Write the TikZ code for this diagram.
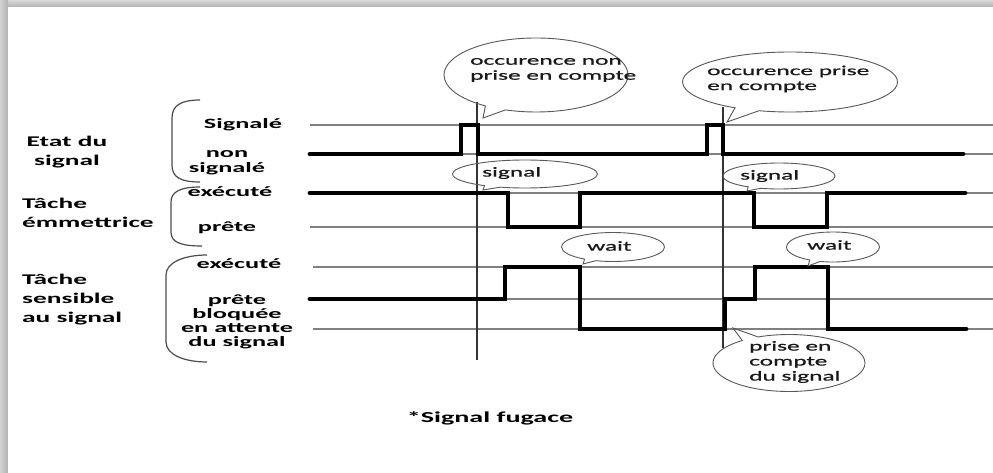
\documentclass[tikz,border=0pt]{standalone}
\usepackage{fontspec}
\setmainfont[FakeStretch=1.85]{Carlito}
\newfontfamily\bubfont[FakeStretch=1.85,FakeBold=0.8]{Carlito}
\usetikzlibrary{shapes.callouts}
\begin{document}
\begin{tikzpicture}[x=1pt,y=-1pt,
  tit/.style={font=\bfseries\fontsize{14.8}{19}\selectfont, align=left, inner sep=0pt},
  mid/.style={font=\bfseries\fontsize{14.2}{15}\selectfont, align=center, inner sep=0pt},
  btxt/.style={font=\bubfont\fontsize{13.7}{15}\selectfont, align=left, inner sep=0pt, text=black!90, anchor=west},
  thinl/.style={draw=black!50, line width=1.2pt},
  wave/.style={draw=black, line width=4.8pt, line cap=round, line join=miter},
  vmark/.style={draw=black!80, line width=1.1pt},
  brace/.style={draw=black!70, line width=1.2pt},
  bub/.style={ellipse callout, draw=black!65, line width=0.9pt, inner sep=0pt, callout pointer arc=14}
]
\useasboundingbox (0,0) rectangle (993,473);
% frame / shadow
\fill[white] (0,0) rectangle (993,473);
\shade[top color=gray!30, bottom color=gray!60] (0,0) rectangle (993,7);
\shade[left color=gray!35, right color=gray!60] (0,0) rectangle (8,473);
\fill[white] (8,7) rectangle (993,473);

% titles
\node[tit, align=center] (etat) at (67,152) {Etat du\\signal};
\node[tit, anchor=west] (emet) at (22,213) {Tâche\\émmettrice};
\node[tit, anchor=west] (sens) at (22,300) {Tâche\\sensible\\au signal};

% state labels
\node[mid] (lsig) at (243,125) {Signalé};
\node[mid] (lnon) at (227,163) {non\\signalé};
\node[mid] (lexe1) at (230,192) {exécuté};
\node[mid] (lpr1) at (227,228) {prête};
\node[mid] (lexe2) at (239,264) {exécuté};
\node[mid, font=\bfseries\fontsize{14.2}{14}\selectfont] (lpr2) at (237,322) {prête\\bloquée\\en attente\\du signal};

% braces
\draw[brace] (200,100) .. controls (180,100) and (172,106) .. (172,118) -- (172,165) .. controls (172,177) and (180,182) .. (200,182);
\draw[brace] (200,187) .. controls (180,187) and (171,192) .. (171,202) -- (171,232) .. controls (171,242) and (180,246) .. (202,246);
\draw[brace] (207,255) .. controls (185,255) and (166,262) .. (166,275) -- (166,342) .. controls (166,355) and (185,362) .. (207,362);

% thin level lines
\foreach \yy/\xx in {125/310,154/310,193/310,227/310,267/313,299/310,329/313}
  \draw[thinl] (\xx,\yy) -- (993,\yy);

% vertical markers
\coordinate (m1t) at (477,102);
\coordinate (m1b) at (477,360);
\coordinate (m2t) at (723,107);
\coordinate (m2b) at (723,348);
\draw[vmark] (m1t) -- (m1b);
\draw[vmark] (m2t) -- (m2b);

% waveforms
\draw[wave] (310,154) -- (461,154) -- (461,125) -- (478,125) -- (478,154) -- (707,154) -- (707,125) -- (723,125) -- (723,154) -- (963,154);
\draw[wave] (310,193) -- (508,193) -- (508,227) -- (580,227) -- (580,193) -- (754,193) -- (754,227) -- (827,227) -- (827,193) -- (965,193);
\draw[wave] (310,299) -- (505,299) -- (505,267) -- (580,267) -- (580,329) -- (725,329) -- (725,299) -- (755,299) -- (755,267) -- (828,267) -- (828,329) -- (966,329);

% bubbles
\node[bub, minimum width=184pt, minimum height=74pt, callout absolute pointer={(483,118)}] (b1) at (536,75) {};
\node[btxt] (t1) at (470,70) {occurence non\\prise en compte};
\node[bub, minimum width=215pt, minimum height=60pt, callout absolute pointer={(727,122)}] (b2) at (790,82) {};
\node[btxt] (t2) at (707,79) {occurence prise\\en compte};
\node[bub, minimum width=145pt, minimum height=28pt, callout absolute pointer={(483,190)}] (b3) at (525,174) {};
\node[btxt] (t3) at (482,173) {signal};
\node[bub, minimum width=112pt, minimum height=26pt, callout absolute pointer={(747,191)}] (b4) at (779,176) {};
\node[btxt] (t4) at (740,176) {signal};
\node[bub, minimum width=103pt, minimum height=29pt, callout absolute pointer={(583,264)}] (b5) at (613,247) {};
\node[btxt] (t5) at (587,246) {wait};
\node[bub, minimum width=93pt, minimum height=30pt, callout absolute pointer={(808,266)}] (b6) at (833,247) {};
\node[btxt] (t6) at (807,245) {wait};
\node[bub, minimum width=152pt, minimum height=57pt, callout absolute pointer={(733,328)}] (b7) at (789,363) {};
\node[btxt] (t7) at (749,362) {prise en\\compte\\du signal};

% caption
\node[font=\bfseries\fontsize{15.2}{17}\selectfont, inner sep=0pt] (fug) at (490,418) {*Signal fugace};
\end{tikzpicture}
\end{document}
